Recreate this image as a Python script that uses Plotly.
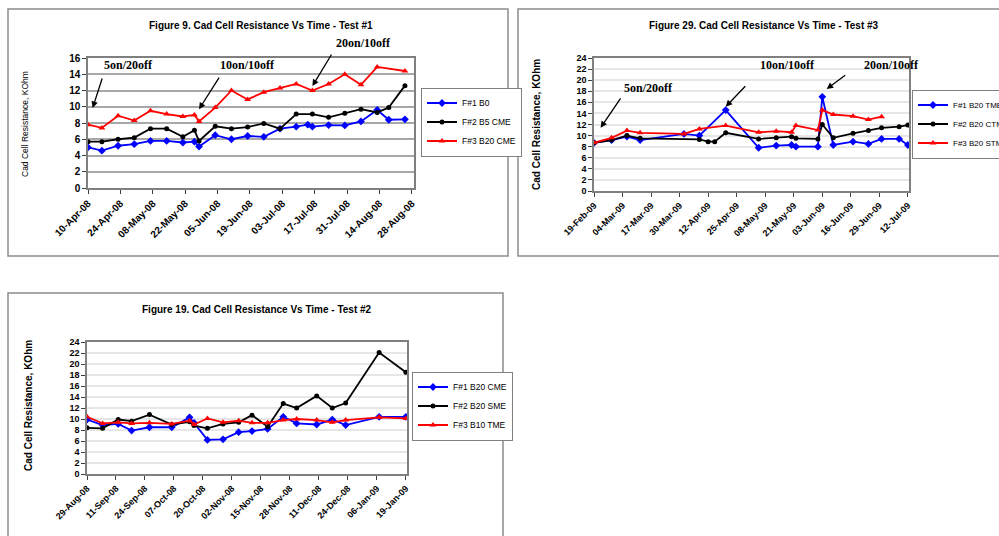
import plotly.graph_objects as go
import pandas as pd

W, H = 999, 536

# ---------------- Test #1 (Figure 9) ----------------
t1_title = "Figure 9. Cad Cell Resistance Vs Time - Test #1"
t1_ticks = ["10-Apr-08", "24-Apr-08", "08-May-08", "22-May-08", "05-Jun-08", "19-Jun-08",
            "03-Jul-08", "17-Jul-08", "31-Jul-08", "14-Aug-08", "28-Aug-08"]
t1_names = ["F#1 B0", "F#2 B5 CME", "F#3 B20 CME"]
t1_f1_dates = ["2008-04-10", "2008-04-16", "2008-04-23", "2008-04-30", "2008-05-07", "2008-05-14",
               "2008-05-21", "2008-05-26", "2008-05-28", "2008-06-04", "2008-06-11", "2008-06-18",
               "2008-06-25", "2008-07-02", "2008-07-09", "2008-07-14", "2008-07-16", "2008-07-23",
               "2008-07-30", "2008-08-06", "2008-08-13", "2008-08-18", "2008-08-25"]
t1_f1_vals = [5.0, 4.6, 5.2, 5.4, 5.8, 5.8, 5.6, 5.7, 5.1, 6.5, 6.0, 6.4,
              6.3, 7.3, 7.55, 7.8, 7.55, 7.75, 7.7, 8.2, 9.6, 8.4, 8.45]
t1_f2_dates = ["2008-04-10", "2008-04-16", "2008-04-23", "2008-04-30", "2008-05-07", "2008-05-14",
               "2008-05-21", "2008-05-26", "2008-05-28", "2008-06-04", "2008-06-11", "2008-06-18",
               "2008-06-25", "2008-07-02", "2008-07-09", "2008-07-16", "2008-07-23", "2008-07-30",
               "2008-08-06", "2008-08-13", "2008-08-18", "2008-08-25"]
t1_f2_vals = [5.7, 5.7, 6.0, 6.2, 7.3, 7.3, 6.3, 7.1, 5.8, 7.6, 7.3, 7.5,
              7.95, 7.3, 9.1, 9.1, 8.7, 9.2, 9.7, 9.3, 9.9, 12.6]
t1_f3_dates = ["2008-04-10", "2008-04-16", "2008-04-23", "2008-04-30", "2008-05-07", "2008-05-14",
               "2008-05-21", "2008-05-26", "2008-05-28", "2008-06-04", "2008-06-11", "2008-06-18",
               "2008-06-25", "2008-07-02", "2008-07-09", "2008-07-16", "2008-07-23", "2008-07-30",
               "2008-08-06", "2008-08-13", "2008-08-25"]
t1_f3_vals = [7.8, 7.4, 8.9, 8.3, 9.5, 9.1, 8.8, 9.0, 8.2, 9.9, 12.0, 10.9,
              11.8, 12.3, 12.8, 12.0, 12.8, 14.0, 12.7, 14.9, 14.4]
t1_phase_text = ["5on/20off", "10on/10off", "20on/10off"]
t1_phase_at = [("2008-04-12", 9.85), ("2008-05-28", 9.7), ("2008-07-16", 12.55)]

# ---------------- Test #3 (Figure 29) ----------------
t3_title = "Figure 29. Cad Cell Resistance Vs Time - Test #3"
t3_ticks = ["19-Feb-09", "04-Mar-09", "17-Mar-09", "30-Mar-09", "12-Apr-09", "25-Apr-09",
            "08-May-09", "21-May-09", "03-Jun-09", "16-Jun-09", "29-Jun-09", "12-Jul-09"]
t3_names = ["F#1 B20 TME", "F#2 B20 CTME", "F#3 B20 STME"]
t3_f1_dates = ["2009-02-19", "2009-02-27", "2009-03-06", "2009-03-12", "2009-04-01", "2009-04-08",
               "2009-04-20", "2009-05-05", "2009-05-13", "2009-05-20", "2009-05-22", "2009-06-01",
               "2009-06-03", "2009-06-08", "2009-06-17", "2009-06-24", "2009-06-30", "2009-07-08",
               "2009-07-12"]
t3_f1_vals = [8.7, 9.2, 9.8, 9.2, 10.3, 10.0, 14.6, 7.8, 8.2, 8.3, 8.0, 8.0,
              17.0, 8.3, 8.9, 8.5, 9.4, 9.4, 8.3]
t3_f2_dates = ["2009-02-19", "2009-02-27", "2009-03-06", "2009-03-12", "2009-04-08", "2009-04-12",
               "2009-04-15", "2009-04-20", "2009-05-05", "2009-05-13", "2009-05-20", "2009-05-22",
               "2009-06-01", "2009-06-03", "2009-06-08", "2009-06-17", "2009-06-24", "2009-06-30",
               "2009-07-08", "2009-07-12"]
t3_f2_vals = [8.7, 9.2, 10.0, 9.5, 9.3, 8.9, 8.9, 10.5, 9.4, 9.6, 9.8, 9.5,
              9.4, 12.0, 9.6, 10.4, 10.9, 11.4, 11.6, 11.9]
t3_f3_dates = ["2009-02-19", "2009-02-27", "2009-03-06", "2009-03-12", "2009-04-01", "2009-04-08",
               "2009-04-20", "2009-05-05", "2009-05-13", "2009-05-20", "2009-05-22", "2009-06-01",
               "2009-06-03", "2009-06-08", "2009-06-17", "2009-06-24", "2009-06-30"]
t3_f3_vals = [8.7, 9.6, 10.9, 10.5, 10.3, 11.2, 11.8, 10.6, 10.8, 10.6, 11.8, 11.0,
              14.6, 13.8, 13.5, 12.9, 13.4]
t3_phase_text = ["5on/20off", "10on/10off", "20on/10off"]
t3_phase_at = [("2009-02-22", 11.4), ("2009-04-20", 15.2), ("2009-06-05", 18.4)]

# ---------------- Test #2 (Figure 19) ----------------
t2_title = "Figure 19. Cad Cell Resistance Vs Time - Test #2"
t2_ticks = ["29-Aug-08", "11-Sep-08", "24-Sep-08", "07-Oct-08", "20-Oct-08", "02-Nov-08",
            "15-Nov-08", "28-Nov-08", "11-Dec-08", "24-Dec-08", "06-Jan-09", "19-Jan-09"]
t2_names = ["F#1 B20 CME", "F#2 B20 SME", "F#3 B10 TME"]
t2_dates = ["2008-08-29", "2008-09-05", "2008-09-12", "2008-09-18", "2008-09-26", "2008-10-06",
            "2008-10-14", "2008-10-16", "2008-10-22", "2008-10-29", "2008-11-05", "2008-11-11",
            "2008-11-18", "2008-11-25", "2008-12-01", "2008-12-10", "2008-12-17", "2008-12-23",
            "2009-01-07", "2009-01-19"]
t2_f1_vals = [9.9, 8.9, 9.1, 7.9, 8.5, 8.5, 10.3, 9.3, 6.2, 6.3, 7.6, 7.8,
              8.2, 10.4, 9.2, 9.0, 9.9, 8.9, 10.4, 10.4]
t2_f2_vals = [8.4, 8.3, 9.9, 9.6, 10.8, 9.0, 9.5, 8.8, 8.3, 9.1, 9.4, 10.7,
              8.6, 12.8, 12.0, 14.2, 12.0, 12.9, 22.1, 18.5]
t2_f3_vals = [10.4, 9.2, 9.4, 9.2, 9.3, 9.1, 9.7, 9.0, 10.1, 9.4, 9.7, 9.3,
              9.3, 9.8, 10.0, 9.8, 9.4, 9.8, 10.3, 10.1]

y_title = "Cad Cell Resistance, KOhm"

FONT = "Liberation Sans, Arial, sans-serif"
SERIF = "Liberation Serif, Times New Roman, serif"
COLORS = ["#0000ff", "#000000", "#ff0000"]
SYMBOLS = ["diamond", "circle", "triangle-up"]
MSIZE = [6, 5, 6]


def px(x):
    return x / W


def py(y):
    return 1 - y / H


fig = go.Figure()


def add_series(dates, vals, k, name, xa, ya, leg):
    fig.add_trace(go.Scatter(
        x=pd.to_datetime(dates), y=vals, mode="lines+markers", name=name,
        line=dict(color=COLORS[k], width=1.8),
        marker=dict(symbol=SYMBOLS[k], size=MSIZE[k], color=COLORS[k]),
        xaxis=xa, yaxis=ya, legend=leg))


add_series(t1_f1_dates, t1_f1_vals, 0, t1_names[0], "x", "y", "legend")
add_series(t1_f2_dates, t1_f2_vals, 1, t1_names[1], "x", "y", "legend")
add_series(t1_f3_dates, t1_f3_vals, 2, t1_names[2], "x", "y", "legend")

add_series(t3_f1_dates, t3_f1_vals, 0, t3_names[0], "x2", "y2", "legend2")
add_series(t3_f2_dates, t3_f2_vals, 1, t3_names[1], "x2", "y2", "legend2")
add_series(t3_f3_dates, t3_f3_vals, 2, t3_names[2], "x2", "y2", "legend2")

add_series(t2_dates, t2_f1_vals, 0, t2_names[0], "x3", "y3", "legend3")
add_series(t2_dates, t2_f2_vals, 1, t2_names[1], "x3", "y3", "legend3")
add_series(t2_dates, t2_f3_vals, 2, t2_names[2], "x3", "y3", "legend3")


def xaxis_cfg(x0, x1, anchor, rng, labels, size):
    vals = pd.to_datetime(labels, format="%d-%b-%y").strftime("%Y-%m-%d").tolist()
    return dict(domain=[px(x0), px(x1)], anchor=anchor, type="date", range=rng,
                tickmode="array", tickvals=vals, ticktext=labels, tickangle=-45,
                ticks="outside", ticklen=4, tickcolor="#404040", showgrid=False,
                showline=True, linecolor="#808080", linewidth=1.5, mirror=True,
                zeroline=False, fixedrange=True,
                tickfont=dict(family=FONT, size=size, color="black", weight="bold"))


def yaxis_cfg(y0, y1, anchor, ymax, size, gridcolor):
    return dict(domain=[py(y1), py(y0)], anchor=anchor, range=[0, ymax], dtick=2, tick0=0,
                ticks="outside", ticklen=4, tickcolor="#404040", showgrid=True,
                gridcolor=gridcolor, gridwidth=2, showline=True, linecolor="#808080",
                linewidth=1.5, mirror=True, zeroline=False, fixedrange=True,
                tickfont=dict(family=FONT, size=size, color="black", weight="bold"))


def legend_cfg(x, yc, size=8.5):
    return dict(x=px(x), y=py(yc), xanchor="left", yanchor="middle", bgcolor="white",
                bordercolor="#808080", borderwidth=1, itemwidth=30, tracegroupgap=0,
                font=dict(family=FONT, size=size, color="black"))


annotations = []


def text_ann(x, y, text, size, bold=True, family=FONT, angle=0):
    annotations.append(dict(x=px(x), y=py(y), xref="paper", yref="paper",
                            text=("<b>%s</b>" % text) if bold else text, showarrow=False,
                            textangle=angle, xanchor="center", yanchor="middle",
                            font=dict(family=family, size=size, color="black")))


def arrow_ann(at, xref, yref, ax, ay):
    annotations.append(dict(x=at[0], y=at[1], xref=xref, yref=yref, text="", showarrow=True,
                            ax=ax, ay=ay, arrowhead=2, arrowsize=1, arrowwidth=1.3,
                            arrowcolor="black", standoff=0))


# Titles and axis titles
text_ann(261, 25, t1_title, 10)
text_ann(764, 25, t3_title, 10)
text_ann(257, 309, t2_title, 10)
text_ann(25, 124, y_title, 8.5, bold=False, angle=-90)
text_ann(536, 125, y_title, 10, angle=-90)
text_ann(28, 406, y_title, 10, angle=-90)

# Phase labels with arrows
for txt, pos in zip(t1_phase_text, [(128, 65), (247, 65), (363, 43)]):
    text_ann(pos[0], pos[1], txt, 12, family=SERIF)
for at, off in zip(t1_phase_at, [(10, -31), (21, -33), (20, -33)]):
    arrow_ann(at, "x", "y", off[0], off[1])
for txt, pos in zip(t3_phase_text, [(648, 88), (787, 65), (891, 65)]):
    text_ann(pos[0], pos[1], txt, 12, family=SERIF)
for at, off in zip(t3_phase_at, [(21, -31), (21, -22), (20, -15)]):
    arrow_ann(at, "x2", "y2", off[0], off[1])

# Panel borders
shapes = []
for (x0, y0, x1, y1) in [(8, 9, 508, 256), (518, 9, 1010, 256), (8, 293, 503, 545)]:
    shapes.append(dict(type="rect", xref="paper", yref="paper", x0=px(x0), x1=px(x1),
                       y0=py(y1), y1=py(y0), line=dict(color="#8c8c8c", width=1.5),
                       fillcolor="rgba(0,0,0,0)", layer="below"))

fig.update_layout(
    width=W, height=536,
    margin=dict(l=0, r=0, t=0, b=0, autoexpand=False),
    paper_bgcolor="white", plot_bgcolor="white",
    showlegend=True,
    xaxis=xaxis_cfg(88, 414, "y", ["2008-04-10", "2008-08-28 22:00"], t1_ticks, 10),
    yaxis=yaxis_cfg(58, 188, "x", 16, 10, "#a8a8a8"),
    xaxis2=xaxis_cfg(594, 909, "y2", ["2009-02-19", "2009-07-12 12:00"], t3_ticks, 9),
    yaxis2=yaxis_cfg(58, 191, "x2", 24, 9, "#e6e6e6"),
    xaxis3=xaxis_cfg(87, 407, "y3", ["2008-08-29", "2009-01-19 12:00"], t2_ticks, 9),
    yaxis3=yaxis_cfg(342, 474, "x3", 24, 9, "#e6e6e6"),
    legend=legend_cfg(421, 122),
    legend2=legend_cfg(912, 124, 8),
    legend3=legend_cfg(412, 406),
    annotations=annotations,
    shapes=shapes,
)

fig.write_html("out.html",
               config={"displayModeBar": False},
               post_script="document.body.style.margin='0';document.body.style.overflow='hidden';")
